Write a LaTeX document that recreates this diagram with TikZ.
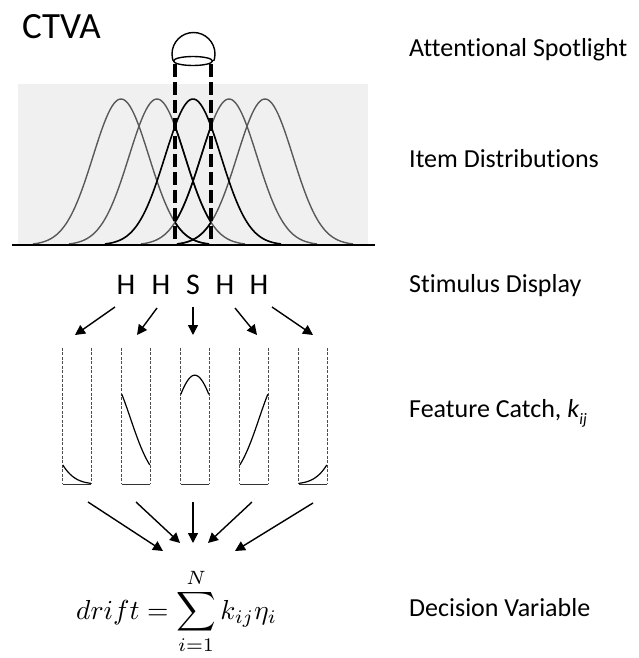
\documentclass[tikz,border=0pt]{standalone}
\usepackage{graphicx}
\usepackage[no-math]{fontspec}
\setmainfont{Carlito}[Ligatures=CommonOff]
\usetikzlibrary{arrows.meta}
\begin{document}
\begin{tikzpicture}[x=1pt,y=-1pt,
  lbl/.style={anchor=base west, font=\fontsize{26}{31}\selectfont, inner sep=0pt},
  letter/.style={anchor=base, font=\fontsize{30}{36}\selectfont, inner sep=0pt},
  arr/.style={line width=1.4pt, -{Triangle[length=10pt,width=10pt]}},
  dens/.style={line width=1.4pt, draw=black!65},
  densin/.style={line width=1.6pt, draw=black},
  spot/.style={line width=4pt, dash pattern=on 13pt off 5pt},
  catchbox/.style={minimum width=28pt, minimum height=136pt, inner sep=0pt},
  catchside/.style={line width=0.8pt, draw=black!70, dash pattern=on 3pt off 1.5pt},
  catchbase/.style={line width=1pt, draw=black!80},
  catchcurve/.style={line width=1.2pt, draw=black},
]
\useasboundingbox (0,0) rectangle (639,658);

% title
\node[anchor=base west, inner sep=0pt, font=\fontsize{37}{44}\selectfont] (title) at (22,39) {CTVA};

% item distributions on a light panel
\fill[black!6] (18,84) rectangle (368,245);
\foreach \m in {121,157,229,265}
  \draw[dens] plot[domain=-88:88, samples=90] ({\m+\x},{245-146*exp(-((\x)^2)/1568)});
\begin{scope}
  \clip (175,60) rectangle (211,246);
  \foreach \m in {121,157,229,265}
    \draw[densin] plot[domain=-88:88, samples=90] ({\m+\x},{245-146*exp(-((\x)^2)/1568)});
\end{scope}
\draw[densin] plot[domain=-88:88, samples=90] ({193+\x},{245-146*exp(-((\x)^2)/1568)});
\draw[line width=1.5pt] (12,245) -- (375,245);

% attentional spotlight: a dome over an elliptical opening
\begin{scope}
  \clip (150,0) rectangle (240,61);
  \draw[line width=1.4pt] (193.5,54) circle [radius=21.5];
\end{scope}
\draw[line width=1.4pt] (193,61) ellipse [x radius=19.5, y radius=4.5];
\draw[spot] (175,64) -- (175,245);
\draw[spot] (211,64) -- (211,245);

% stimulus display
\node[letter] (h1) at (126,294) {H};
\node[letter] (h2) at (161,294) {H};
\node[letter] (h3) at (193,294) {S};
\node[letter] (h4) at (225,294) {H};
\node[letter] (h5) at (259,294) {H};

% feature catch panels
\node[catchbox] (c1) at (77,416) {};
\node[catchbox] (c2) at (136,416) {};
\node[catchbox] (c3) at (195,416) {};
\node[catchbox] (c4) at (254,416) {};
\node[catchbox] (c5) at (313,416) {};
\foreach \c in {c1,c2,c3,c4,c5} {
  \draw[catchside] (\c.north west) -- (\c.south west);
  \draw[catchside] (\c.north east) -- (\c.south east);
  \draw[catchbase] (\c.south west) -- (\c.south east);
}
\foreach \c/\m in {c1/121,c2/157,c3/193,c4/229,c5/265}
  \draw[catchcurve] plot[domain=0:28, samples=40]
    ([shift={(\x,{-109*exp(-((175+\x*36/28-\m)^2)/1682)})}]\c.south west);

% arrows from the letters to the panels
\coordinate (s1) at (115,307); \coordinate (e1) at (75,335);
\coordinate (s2) at (157,308); \coordinate (e2) at (137,335);
\coordinate (s3) at (193,307); \coordinate (e3) at (193,335);
\coordinate (s4) at (235,308); \coordinate (e4) at (257,335);
\coordinate (s5) at (272,307); \coordinate (e5) at (313,335);
\foreach \i in {1,...,5} \draw[arr] (s\i) -- (e\i);

% decision variable
\node[anchor=base west, inner sep=0pt] (dv) at (76,619)
  {\scalebox{2.75}{$\displaystyle drift = \sum_{i=1}^{N} k_{ij}\eta_i$}};

% arrows from the panels to the decision variable
\coordinate (t1) at (88,502);  \coordinate (f1) at (163,551);
\coordinate (t2) at (136,502); \coordinate (f2) at (180,543);
\coordinate (t3) at (193,502); \coordinate (f3) at (193,543);
\coordinate (t4) at (252,502); \coordinate (f4) at (208,543);
\coordinate (t5) at (313,503); \coordinate (f5) at (235,551);
\foreach \i in {1,...,5} \draw[arr] (t\i) -- (f\i);

% stage labels
\node[lbl] (l1) at (409,57) {Attentional Spotlight};
\node[lbl] (l2) at (409,167) {Item Distributions};
\node[lbl] (l3) at (409,292) {Stimulus Display};
\node[lbl] (l4) at (409,417) {Feature Catch, \textit{k}\raisebox{-0.3em}{\fontsize{16}{16}\selectfont\itshape ij}};
\node[lbl] (l5) at (409,616) {Decision Variable};
\end{tikzpicture}
\end{document}
